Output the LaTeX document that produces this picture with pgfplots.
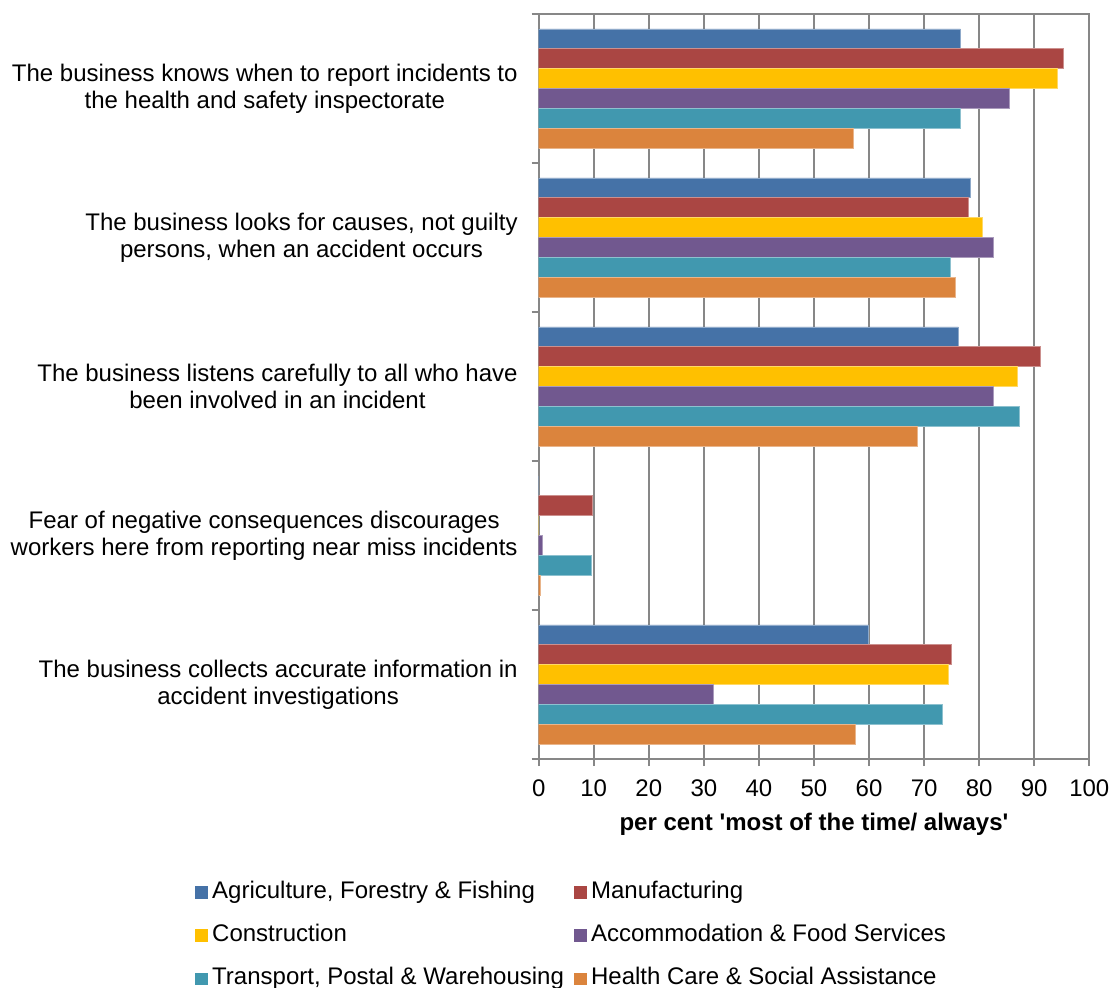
\documentclass[border=0pt]{standalone}
\usepackage{fontspec}
\setmainfont[Ligatures=TeXOff]{Liberation Sans}
\usepackage{pgfplots}
\pgfplotsset{compat=1.18}
\definecolor{cA}{HTML}{4572A7}
\definecolor{cB}{HTML}{AA4643}
\definecolor{cC}{HTML}{FFC000}
\definecolor{cD}{HTML}{71588F}
\definecolor{cE}{HTML}{4198AF}
\definecolor{cF}{HTML}{DB843D}
\definecolor{gridgray}{HTML}{878787}
\begin{document}
\begin{tikzpicture}
\useasboundingbox (-269.35pt,-114pt) rectangle (285.15pt,379.5pt);
\begin{axis}[
  at={(0,0)}, anchor=south west,
  scale only axis, width=275.3pt, height=372.5pt,
  xbar, xmin=0, xmax=100, ymin=0.5, ymax=5.5,
  bar width=9.92pt,
  xtick={0,10,...,100},
  xmajorgrids,
  major grid style={draw=gridgray, line width=1pt},
  axis line style={draw=gridgray, line width=1pt},
  tick style={draw=gridgray, line width=1pt},
  major tick length=3.5pt, tick align=outside,
  xtick pos=bottom, ytick pos=left,
  ytick={1,2,3,4,5},
  yticklabels={{The business collects accurate information in\\accident investigations},
    {Fear of negative consequences discourages\\workers here from reporting near miss incidents},
    {The business listens carefully to all who have\\been involved in an incident},
    {The business looks for causes, not guilty\\persons, when an accident occurs},
    {The business knows when to report incidents to\\the health and safety inspectorate}},
  ytick style={draw=none},
  extra y ticks={0.5,1.5,2.5,3.5,4.5,5.5},
  extra y tick labels={},
  extra y tick style={ytick style={draw=gridgray, line width=1pt}},
  /pgf/number format/assume math mode=true,
  every tick label/.append style={font=\fontsize{12}{13.5}\selectfont},
  yticklabel style={align=center, inner sep=0pt, anchor=east, xshift=-6.85pt},
  xticklabel style={inner sep=0pt, anchor=base, yshift=-15pt},
  xlabel={per cent 'most of the time/ always'},
  xlabel style={at={(axis description cs:0.5,0)}, anchor=base, yshift=-35.5pt, inner sep=0pt, font=\fontsize{12}{14}\selectfont\bfseries},
  legend columns=2,
  legend cell align=left,
  legend image code/.code={\draw[#1, draw=none] (0pt,-3.15pt) rectangle (6.3pt,3.15pt);},
  legend style={at={(-0.6242,-0.1639)}, anchor=north west, draw=none, fill=none,
    inner sep=0pt, outer sep=0pt,
    font=\fontsize{12}{13.5}\selectfont,
    nodes={inner sep=0pt, text height=8.6pt, text depth=2.5pt},
    row sep=10.57pt,
    /tikz/every odd column/.append style={column sep=2.3pt},
    /tikz/every even column/.append style={column sep=5pt}},
]
\addplot[fill=cA, draw=cA!60!white, line width=0.4pt, bar shift=24.8pt] coordinates {(59.9,1) (0,2) (76.2,3) (78.4,4) (76.6,5)};
\addplot[fill=cB, draw=cB!60!white, line width=0.4pt, bar shift=14.88pt] coordinates {(75.0,1) (9.8,2) (91.2,3) (78.0,4) (95.3,5)};
\addplot[fill=cC, draw=cC!60!white, line width=0.4pt, bar shift=4.96pt] coordinates {(74.5,1) (0,2) (87.0,3) (80.6,4) (94.2,5)};
\addplot[fill=cD, draw=cD!60!white, line width=0.4pt, bar shift=-4.96pt] coordinates {(31.8,1) (0.7,2) (82.5,3) (82.6,4) (85.4,5)};
\addplot[fill=cE, draw=cE!60!white, line width=0.4pt, bar shift=-14.88pt] coordinates {(73.3,1) (9.6,2) (87.3,3) (74.8,4) (76.5,5)};
\addplot[fill=cF, draw=cF!60!white, line width=0.4pt, bar shift=-24.8pt] coordinates {(57.6,1) (0.3,2) (68.7,3) (75.6,4) (57.1,5)};
\legend{{Agriculture, Forestry \& Fishing}, Manufacturing, Construction, Accommodation \& Food Services, {Transport, Postal \& Warehousing}, {Health Care \& Social Assistance}}
\end{axis}
\end{tikzpicture}
\end{document}
